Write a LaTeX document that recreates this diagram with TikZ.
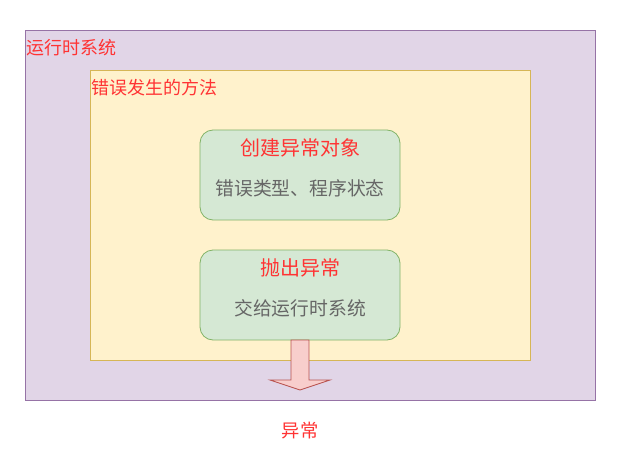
\documentclass[tikz,border=0pt]{standalone}
\usepackage{fontspec}
\setmainfont{Noto Sans CJK SC}
\definecolor{pfill}{HTML}{E1D5E7}
\definecolor{pstroke}{HTML}{9673A6}
\definecolor{yfill}{HTML}{FFF2CC}
\definecolor{ystroke}{HTML}{D6B656}
\definecolor{gfill}{HTML}{D5E8D4}
\definecolor{gstroke}{HTML}{82B366}
\definecolor{rfill}{HTML}{F8CECC}
\definecolor{rstroke}{HTML}{B85450}
\definecolor{redtext}{HTML}{FF3333}
\definecolor{graytext}{HTML}{666666}
\begin{document}
\begin{tikzpicture}[x=1pt,y=-1pt,
  cont/.style={draw=#1, line width=0.8pt},
  gbox/.style={draw=gstroke, fill=gfill, rounded corners=13pt, line width=0.8pt},
  rlabel/.style={text=redtext, inner sep=0pt},
  glabel/.style={text=graytext, inner sep=0pt}]
\useasboundingbox (0,0) rectangle (622,452);
\fill[white] (0,0) rectangle (622,452);
\draw[cont=pstroke, fill=pfill] (25,30) rectangle (595,400);
\node[rlabel, anchor=west, font=\fontsize{18}{20}\selectfont] (sys) at (26.5,47.5) {运行时系统};
\draw[cont=ystroke, fill=yfill] (90,70) rectangle (530,360);
\node[rlabel, anchor=west, font=\fontsize{18}{20}\selectfont] (meth) at (91.5,88) {错误发生的方法};
\draw[gbox] (200,130) rectangle (400,220);
\node[rlabel, font=\fontsize{20}{22}\selectfont] (t1) at (300,147.5) {创建异常对象};
\node[glabel, font=\fontsize{18.8}{21}\selectfont] (s1) at (300,188) {错误类型、程序状态};
\draw[gbox] (200,250) rectangle (400,340);
\node[rlabel, font=\fontsize{20}{22}\selectfont] (t2) at (300,267.5) {抛出异常};
\node[glabel, font=\fontsize{18.8}{21}\selectfont] (s2) at (300,308) {交给运行时系统};
\draw[draw=rstroke, fill=rfill, line width=0.8pt, line join=miter]
  (291,340) -- (309,340) -- (309,380) -- (330,380) -- (300,390) -- (270,380) -- (291,380) -- cycle;
\node[rlabel, font=\fontsize{18.3}{21}\selectfont] (exc) at (300,431) {异常};
\end{tikzpicture}
\end{document}
